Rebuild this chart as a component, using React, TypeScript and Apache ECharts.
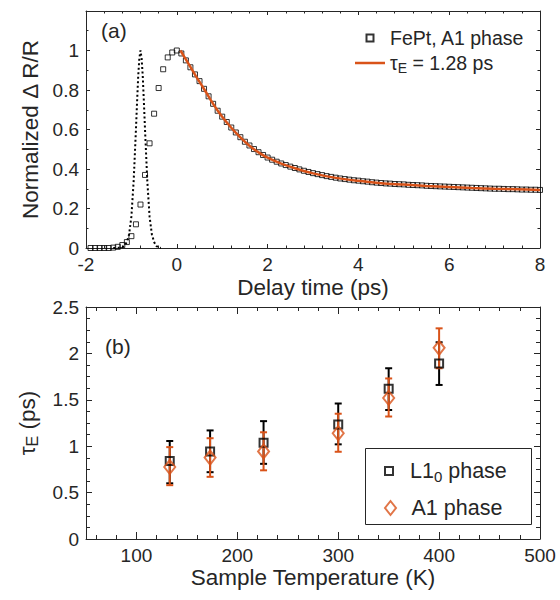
import React, { useEffect, useRef } from "react";
import * as echarts from "echarts";

const FONT = '"Liberation Sans", Arial, Helvetica, sans-serif';
const INK = "#262626";
const ORANGE = "#D95319";

// ---------- Panel (a): delay-time trace ----------
const pulseData: number[][] = [
  [-1.4, 0], [-1.3, 0.001], [-1.25, 0.002], [-1.2, 0.005], [-1.15, 0.012], [-1.1, 0.03],
  [-1.05, 0.07], [-1.0, 0.16], [-0.95, 0.34], [-0.9, 0.6], [-0.875, 0.74], [-0.85, 0.87],
  [-0.825, 0.96], [-0.8, 1.0], [-0.775, 0.96], [-0.75, 0.87], [-0.725, 0.74], [-0.7, 0.6],
  [-0.65, 0.34], [-0.6, 0.16], [-0.55, 0.07], [-0.5, 0.03], [-0.45, 0.01], [-0.4, 0.002], [-0.35, 0],
];

const squareData: number[][] = [
  [-1.9, 0], [-1.8, 0], [-1.7, 0], [-1.6, 0], [-1.5, 0], [-1.4, 0.002], [-1.3, 0.006],
  [-1.2, 0.015], [-1.1, 0.03], [-1.0, 0.06], [-0.9, 0.12], [-0.8, 0.22], [-0.7, 0.37],
  [-0.6, 0.53], [-0.5, 0.68], [-0.4, 0.81], [-0.3, 0.905], [-0.2, 0.965], [-0.1, 0.99],
  [0.0, 1.0], [0.1, 0.985], [0.2, 0.95], [0.3, 0.915], [0.4, 0.879], [0.5, 0.845],
  [0.6, 0.806], [0.7, 0.768], [0.8, 0.73], [0.9, 0.695], [1.0, 0.665], [1.1, 0.638],
  [1.2, 0.61], [1.3, 0.585], [1.4, 0.561], [1.5, 0.538], [1.6, 0.519], [1.7, 0.501],
  [1.8, 0.485], [1.9, 0.471], [2.0, 0.458], [2.1, 0.447], [2.2, 0.437], [2.3, 0.428],
  [2.4, 0.42], [2.5, 0.412], [2.6, 0.405], [2.7, 0.398], [2.8, 0.391], [2.9, 0.385],
  [3.0, 0.379], [3.1, 0.374], [3.2, 0.369], [3.3, 0.364], [3.4, 0.36], [3.5, 0.356],
  [3.6, 0.352], [3.7, 0.349], [3.8, 0.346], [3.9, 0.343], [4.0, 0.341], [4.1, 0.338],
  [4.2, 0.336], [4.3, 0.333], [4.4, 0.331], [4.5, 0.329], [4.6, 0.327], [4.7, 0.326],
  [4.8, 0.324], [4.9, 0.323], [5.0, 0.322], [5.1, 0.32], [5.2, 0.319], [5.3, 0.318],
  [5.4, 0.317], [5.5, 0.315], [5.6, 0.314], [5.7, 0.313], [5.8, 0.312], [5.9, 0.311],
  [6.0, 0.31], [6.1, 0.309], [6.2, 0.308], [6.3, 0.307], [6.4, 0.306], [6.5, 0.305],
  [6.6, 0.304], [6.7, 0.303], [6.8, 0.302], [6.9, 0.301], [7.0, 0.3], [7.1, 0.3],
  [7.2, 0.299], [7.3, 0.298], [7.4, 0.298], [7.5, 0.297], [7.6, 0.296], [7.7, 0.296],
  [7.8, 0.295], [7.9, 0.295], [8.0, 0.294],
];

const fitData: number[][] = [
  [0.08, 1.0], [0.2, 0.955], [0.4, 0.878], [0.6, 0.805], [0.8, 0.73], [1.0, 0.664],
  [1.2, 0.609], [1.4, 0.56], [1.6, 0.518], [1.8, 0.484], [2.0, 0.457], [2.3, 0.427],
  [2.6, 0.404], [3.0, 0.378], [3.5, 0.355], [4.0, 0.34], [4.5, 0.328], [5.0, 0.321],
  [5.5, 0.314], [6.0, 0.309], [6.5, 0.304], [7.0, 0.3], [7.5, 0.297], [8.0, 0.294],
];

// ---------- Panel (b): tau_E vs temperature ----------
const temperatures = [133, 173, 226, 300, 350, 400];
const tauL10 = [0.84, 0.944, 1.037, 1.235, 1.62, 1.89];
const tauL10Low = [0.6, 0.72, 0.81, 1.02, 1.39, 1.66];
const tauL10High = [1.056, 1.17, 1.27, 1.46, 1.84, 2.12];
const tauA1 = [0.776, 0.877, 0.944, 1.14, 1.52, 2.06];
const tauA1Low = [0.58, 0.67, 0.74, 0.94, 1.32, 1.84];
const tauA1High = [0.99, 1.086, 1.15, 1.35, 1.73, 2.27];
const tempLabels = [100, 200, 300, 400, 500];
const tempMinor = [60, 80, 120, 140, 160, 180, 220, 240, 260, 280, 320, 340, 360, 380, 420, 440, 460, 480];

const tickFont = { fontSize: 19, fontFamily: FONT, color: INK };
const nameFont = { fontSize: 22.5, fontFamily: FONT, color: INK };

function errorBarSeries(name: string, lows: number[], highs: number[], color: string) {
  return {
    type: "custom",
    name,
    xAxisIndex: 2,
    yAxisIndex: 2,
    silent: true,
    data: temperatures.map((t, i) => [t, lows[i], highs[i]]),
    encode: { x: 0, y: [1, 2] },
    renderItem: (_params: any, api: any) => {
      const x = api.value(0);
      const lo = api.coord([x, api.value(1)]);
      const hi = api.coord([x, api.value(2)]);
      const cap = 3.5;
      const st = { stroke: color, lineWidth: 2 };
      return {
        type: "group",
        children: [
          { type: "line", shape: { x1: lo[0], y1: lo[1], x2: hi[0], y2: hi[1] }, style: st },
          { type: "line", shape: { x1: lo[0] - cap, y1: lo[1], x2: lo[0] + cap, y2: lo[1] }, style: st },
          { type: "line", shape: { x1: hi[0] - cap, y1: hi[1], x2: hi[0] + cap, y2: hi[1] }, style: st },
        ],
      };
    },
    z: 2,
  };
}

const richA = {
  n: { fontSize: 19.5, fontFamily: FONT, color: INK, lineHeight: 24, verticalAlign: "middle" },
  s: { fontSize: 14, fontFamily: FONT, color: INK, lineHeight: 14, verticalAlign: "bottom" },
};
const richB = {
  n: { fontSize: 21.5, fontFamily: FONT, color: INK, lineHeight: 26, verticalAlign: "middle" },
  s: { fontSize: 15, fontFamily: FONT, color: INK, lineHeight: 14, verticalAlign: "bottom" },
};

const SQUARE_ICON = "path://M0 0H10V10H0Z";
const LINE_ICON = "path://M0 0H30V2.5H0Z";
const DIAMOND_ICON = "path://M5.5 0L11 7L5.5 14L0 7Z";

export default function App() {
  const ref = useRef<HTMLDivElement>(null);

  useEffect(() => {
    if (!ref.current) return;
    const chart = echarts.init(ref.current, undefined, { renderer: "svg" });

    const axisLine = { show: true, onZero: false, lineStyle: { color: INK, width: 1 } };

    const option: any = {
      animation: false,
      backgroundColor: "#ffffff",
      title: [
        { text: "(a)", left: 101, top: 20, padding: 0, textStyle: { fontSize: 21, fontWeight: "normal", fontFamily: FONT, color: INK } },
        { text: "(b)", left: 105, top: 336, padding: 0, textStyle: { fontSize: 21, fontWeight: "normal", fontFamily: FONT, color: INK } },
      ],
      grid: [
        { left: 86, top: 11, width: 454, height: 237 },
        { left: 86, top: 307, width: 454, height: 232 },
      ],
      xAxis: [
        {
          type: "value", gridIndex: 0, position: "bottom", min: -2, max: 8, interval: 2,
          axisLine, axisTick: { inside: true, length: 4, lineStyle: { color: INK } },
          minorTick: { show: true, splitNumber: 5, length: 2.5, lineStyle: { color: INK } },
          axisLabel: { ...tickFont, margin: 7 }, splitLine: { show: false }, minorSplitLine: { show: false },
          name: "Delay time (ps)", nameLocation: "middle", nameGap: 28, nameTextStyle: nameFont,
        },
        {
          type: "value", gridIndex: 0, position: "top", min: -2, max: 8, interval: 2,
          axisLine, axisTick: { inside: true, length: 4, lineStyle: { color: INK } },
          minorTick: { show: true, splitNumber: 5, length: 2.5, lineStyle: { color: INK } },
          axisLabel: { show: false }, splitLine: { show: false },
        },
        {
          type: "value", gridIndex: 1, position: "bottom", min: 50, max: 500,
          axisLine, axisTick: { inside: true, length: 7, customValues: tempLabels, lineStyle: { color: INK } },
          axisLabel: { ...tickFont, margin: 7, customValues: tempLabels }, splitLine: { show: false },
          name: "Sample Temperature (K)", nameLocation: "middle", nameGap: 27, nameTextStyle: nameFont,
        },
        {
          type: "value", gridIndex: 1, position: "bottom", min: 50, max: 500,
          axisLine: { show: false, onZero: false },
          axisTick: { inside: true, length: 4, customValues: tempMinor, lineStyle: { color: INK } },
          axisLabel: { show: false }, splitLine: { show: false },
        },
        {
          type: "value", gridIndex: 1, position: "top", min: 50, max: 500,
          axisLine, axisTick: { inside: true, length: 7, customValues: tempLabels, lineStyle: { color: INK } },
          axisLabel: { show: false }, splitLine: { show: false },
        },
        {
          type: "value", gridIndex: 1, position: "top", min: 50, max: 500,
          axisLine: { show: false, onZero: false },
          axisTick: { inside: true, length: 4, customValues: tempMinor, lineStyle: { color: INK } },
          axisLabel: { show: false }, splitLine: { show: false },
        },
      ],
      yAxis: [
        {
          type: "value", gridIndex: 0, position: "left", min: 0, max: 1.2, interval: 0.2,
          axisLine, axisTick: { inside: true, length: 4, lineStyle: { color: INK } },
          minorTick: { show: true, splitNumber: 2, length: 2.5, lineStyle: { color: INK } },
          axisLabel: { ...tickFont, margin: 7, showMaxLabel: false }, splitLine: { show: false },
          name: "Normalized Δ R/R", nameLocation: "middle", nameGap: 41, nameRotate: 90, nameTextStyle: nameFont,
        },
        {
          type: "value", gridIndex: 0, position: "right", min: 0, max: 1.2, interval: 0.2,
          axisLine, axisTick: { inside: true, length: 4, lineStyle: { color: INK } },
          minorTick: { show: true, splitNumber: 2, length: 2.5, lineStyle: { color: INK } },
          axisLabel: { show: false }, splitLine: { show: false },
        },
        {
          type: "value", gridIndex: 1, position: "left", min: 0, max: 2.5, interval: 0.5,
          axisLine, axisTick: { inside: true, length: 6, lineStyle: { color: INK } },
          minorTick: { show: true, splitNumber: 4, length: 4, lineStyle: { color: INK } },
          axisLabel: { ...tickFont, margin: 7 }, splitLine: { show: false },
          name: "{t|τ}{s|E}{t| (ps)}", nameLocation: "middle", nameGap: 46, nameRotate: 90,
          nameTextStyle: {
            ...nameFont,
            rich: {
              t: { fontSize: 22.5, fontFamily: FONT, color: INK, lineHeight: 26, verticalAlign: "middle" },
              s: { fontSize: 16, fontFamily: FONT, color: INK, lineHeight: 16, verticalAlign: "bottom" },
            },
          },
        },
        {
          type: "value", gridIndex: 1, position: "right", min: 0, max: 2.5, interval: 0.5,
          axisLine, axisTick: { inside: true, length: 6, lineStyle: { color: INK } },
          minorTick: { show: true, splitNumber: 4, length: 4, lineStyle: { color: INK } },
          axisLabel: { show: false }, splitLine: { show: false },
        },
      ],
      legend: [
        {
          orient: "vertical", left: 355, top: 26, padding: 0, itemWidth: 30, itemHeight: 7, itemGap: 1,
          selectedMode: false,
          data: [
            { name: "FePt, A1 phase", icon: SQUARE_ICON },
            { name: "tauE", icon: LINE_ICON },
          ],
          formatter: (name: string) => (name === "tauE" ? "{n|τ}{s|E}{n| = 1.28 ps}" : "{n|" + name + "}"),
          textStyle: { ...richA.n, rich: richA },
        },
        {
          left: 384, top: 458, padding: 0, itemWidth: 32, itemHeight: 8, selectedMode: false,
          data: [{ name: "L10", icon: SQUARE_ICON }],
          formatter: () => "{n|L1}{s|0}{n| phase}",
          textStyle: { ...richB.n, rich: richB },
        },
        {
          left: 384, top: 495, padding: 0, itemWidth: 32, itemHeight: 14, selectedMode: false,
          data: [{ name: "A1", icon: DIAMOND_ICON }],
          formatter: () => "{n|A1 phase}",
          textStyle: { ...richB.n, rich: richB },
        },
      ],
      graphic: [
        {
          type: "rect", left: 365, top: 448, z: 3,
          shape: { width: 166, height: 76 },
          style: { fill: "#ffffff", stroke: INK, lineWidth: 1 },
        },
      ],
      series: [
        {
          type: "line", name: "pulse", xAxisIndex: 0, yAxisIndex: 0, data: pulseData,
          showSymbol: false, symbol: "none", silent: true,
          lineStyle: { color: "#000", width: 2, type: [2, 2.5] },
        },
        {
          type: "scatter", name: "FePt, A1 phase", xAxisIndex: 0, yAxisIndex: 0, data: squareData,
          symbol: "rect", symbolSize: 5,
          itemStyle: { color: "rgba(255,255,255,0)", borderColor: "#000", borderWidth: 1 },
        },
        {
          type: "line", name: "tauE", xAxisIndex: 0, yAxisIndex: 0, data: fitData,
          showSymbol: false, symbol: "none", smooth: 0.3,
          itemStyle: { color: ORANGE },
          lineStyle: { color: ORANGE, width: 2.5 },
        },
        errorBarSeries("L10 err", tauL10Low, tauL10High, "#000"),
        {
          type: "scatter", name: "L10", xAxisIndex: 2, yAxisIndex: 2,
          data: temperatures.map((t, i) => [t, tauL10[i]]),
          symbol: "rect", symbolSize: 8, z: 3,
          itemStyle: { color: "rgba(255,255,255,0)", borderColor: "#000", borderWidth: 2 },
        },
        errorBarSeries("A1 err", tauA1Low, tauA1High, ORANGE),
        {
          type: "scatter", name: "A1", xAxisIndex: 2, yAxisIndex: 2,
          data: temperatures.map((t, i) => [t, tauA1[i]]),
          symbol: "diamond", symbolSize: [11, 14], z: 4,
          itemStyle: { color: "rgba(255,255,255,0)", borderColor: ORANGE, borderWidth: 2 },
        },
      ],
    };

    chart.setOption(option);
    return () => chart.dispose();
  }, []);

  return (
    <div
      ref={ref}
      style={{ position: "fixed", left: 0, top: 0, width: 560, height: 600, background: "#fff" }}
    />
  );
}
